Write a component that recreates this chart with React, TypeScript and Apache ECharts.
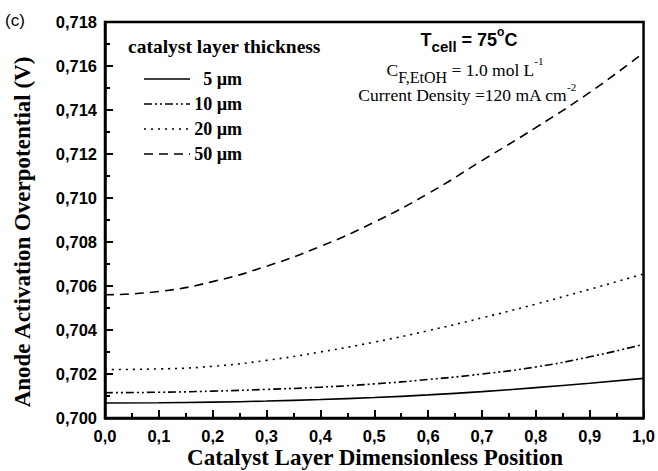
import React, { useEffect, useRef } from "react";
import * as echarts from "echarts";

const positions = [0, 0.1, 0.2, 0.3, 0.4, 0.5, 0.6, 0.7, 0.8, 0.9, 1.0];
const thick5 = [0.70068, 0.70069, 0.70072, 0.70077, 0.70084, 0.70093, 0.70105, 0.7012, 0.70138, 0.70158, 0.7018];
const thick10 = [0.70115, 0.70117, 0.70122, 0.7013, 0.7014, 0.70155, 0.70175, 0.702, 0.70232, 0.70278, 0.70335];
const thick20 = [0.7022, 0.70223, 0.70235, 0.70262, 0.703, 0.70345, 0.70397, 0.70455, 0.70518, 0.70585, 0.70655];
const thick50 = [0.7056, 0.70575, 0.7062, 0.7069, 0.7078, 0.7089, 0.7102, 0.7117, 0.7132, 0.7148, 0.7166];
const seriesNames = ["5 µm", "10 µm", "20 µm", "50 µm"];
const dashes: (number[] | "solid")[] = ["solid", [8, 3, 2, 3, 2, 3], [2, 5], [9, 6]];

const GL = 105, GR = 645, GT = 22, GB = 418;
const SERIF = "'Liberation Serif', 'Times New Roman', serif";
const SANS = "'Liberation Sans', Arial, sans-serif";

export default function App() {
  const ref = useRef<HTMLDivElement>(null);
  useEffect(() => {
    const chart = echarts.init(ref.current!, null, { renderer: "svg" });
    const all = [thick5, thick10, thick20, thick50];
    const series = all.map((vals, i) => ({
      type: "line",
      name: seriesNames[i],
      data: vals.map((v, j) => [positions[j], v]),
      smooth: 0.5,
      showSymbol: false,
      symbol: "none",
      lineStyle: { color: "#000", width: 1.6, type: dashes[i] as any },
    }));
    const legendRows = [79, 104, 129, 154];
    const legendGraphics: any[] = [];
    seriesNames.forEach((n, i) => {
      legendGraphics.push({
        type: "line",
        shape: { x1: 144, y1: legendRows[i], x2: 190, y2: legendRows[i] },
        style: { stroke: "#000", lineWidth: 1.6, lineDash: dashes[i] === "solid" ? null : dashes[i] },
      });
      legendGraphics.push({
        type: "text",
        x: 242,
        y: legendRows[i],
        style: {
          text: n,
          font: `bold 18px ${SERIF}`,
          fill: "#000",
          align: "right",
          verticalAlign: "middle",
        },
      });
    });
    chart.setOption({
      animation: false,
      grid: {
        left: GL,
        right: 658 - GR,
        top: GT,
        bottom: 471 - GB,
        show: true,
        borderColor: "#000",
        borderWidth: 2.5,
      },
      xAxis: {
        type: "value",
        min: 0,
        max: 1,
        interval: 0.1,
        axisLine: { lineStyle: { color: "#000", width: 2.5 } },
        axisTick: { inside: true, length: 8, lineStyle: { color: "#000", width: 2 } },
        minorTick: { show: true, splitNumber: 2, length: 5, lineStyle: { color: "#000", width: 2 } },
        splitLine: { show: false },
        axisLabel: {
          color: "#000",
          fontSize: 16.5,
          fontWeight: "bold",
          fontFamily: SANS,
          margin: 9,
          formatter: (v: number) => v.toFixed(1).replace(".", ","),
        },
      },
      yAxis: {
        type: "value",
        min: 0.7,
        max: 0.718,
        interval: 0.002,
        axisLine: { lineStyle: { color: "#000", width: 2.5 } },
        axisTick: { inside: true, length: 8, lineStyle: { color: "#000", width: 2 } },
        minorTick: { show: true, splitNumber: 2, length: 5, lineStyle: { color: "#000", width: 2 } },
        splitLine: { show: false },
        axisLabel: {
          color: "#000",
          fontSize: 16.5,
          fontWeight: "bold",
          fontFamily: SANS,
          margin: 8,
          formatter: (v: number) => v.toFixed(3).replace(".", ","),
        },
      },
      series,
      graphic: [
        {
          type: "text",
          x: 5,
          y: 20,
          style: { text: "(c)", font: `17px ${SANS}`, fill: "#000", verticalAlign: "middle" },
        },
        {
          type: "text",
          x: 22,
          y: 232,
          rotation: Math.PI / 2,
          style: {
            text: "Anode Activation Overpotential (V)",
            font: `bold 23px ${SERIF}`,
            fill: "#000",
            align: "center",
            verticalAlign: "middle",
          },
        },
        {
          type: "text",
          x: (GL + GR) / 2,
          y: 457,
          style: {
            text: "Catalyst Layer Dimensionless Position",
            font: `bold 23px ${SERIF}`,
            fill: "#000",
            align: "center",
            verticalAlign: "middle",
          },
        },
        {
          type: "text",
          x: 128,
          y: 46,
          style: {
            text: "catalyst layer thickness",
            font: `bold 19.5px ${SERIF}`,
            fill: "#000",
            verticalAlign: "middle",
          },
        },
        ...legendGraphics,
        {
          type: "text",
          x: 469,
          y: 40,
          style: {
            text: "{m|T}{s|cell}{m| = 75}{p|o}{m|C}",
            align: "center",
            verticalAlign: "middle",
            rich: {
              m: { font: `bold 18px ${SANS}`, fill: "#000", lineHeight: 28 },
              s: { font: `bold 15px ${SANS}`, fill: "#000", lineHeight: 15, verticalAlign: "bottom" },
              p: { font: `bold 12px ${SANS}`, fill: "#000", lineHeight: 12, verticalAlign: "top" },
            },
          } as any,
        },
        {
          type: "text",
          x: 465,
          y: 70,
          style: {
            text: "{m|C}{s|F,EtOH}{m| = 1.0 mol L}{p|-1}",
            align: "center",
            verticalAlign: "middle",
            rich: {
              m: { font: `17.5px ${SERIF}`, fill: "#000", lineHeight: 30 },
              s: { font: `16px ${SERIF}`, fill: "#000", lineHeight: 16, verticalAlign: "bottom" },
              p: { font: `11px ${SERIF}`, fill: "#000", lineHeight: 11, verticalAlign: "top" },
            },
          } as any,
        },
        {
          type: "text",
          x: 467,
          y: 95,
          style: {
            text: "{m|Current Density =120 mA cm}{p|-2}",
            align: "center",
            verticalAlign: "middle",
            rich: {
              m: { font: `17.5px ${SERIF}`, fill: "#000", lineHeight: 28 },
              p: { font: `11px ${SERIF}`, fill: "#000", lineHeight: 11, verticalAlign: "top" },
            },
          } as any,
        },
      ],
    });
    return () => chart.dispose();
  }, []);
  return <div ref={ref} style={{ width: 658, height: 471, position: "absolute", left: 0, top: 0, background: "#fff" }} />;
}
